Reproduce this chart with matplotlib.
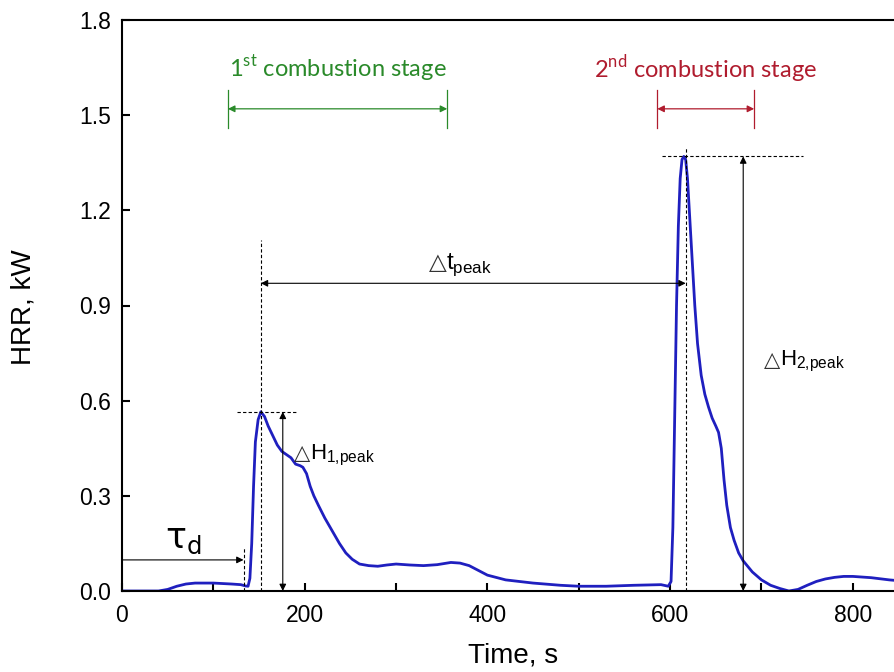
import numpy as np
import matplotlib.pyplot as plt
from matplotlib.ticker import MultipleLocator

# HRR curve (time in s, HRR in kW)
time = [0, 20, 40, 50, 60, 70, 80, 100, 120, 130, 135, 138, 140, 142, 144, 146, 149, 152,
        156, 160, 165, 170, 175, 180, 185, 190, 195, 198, 202, 206, 210, 215, 222, 230, 238,
        245, 252, 260, 270, 280, 290, 300, 315, 330, 345, 360, 370, 380, 390, 400, 420, 450,
        480, 500, 530, 560, 590, 598, 601, 603, 605, 607, 609, 611, 613, 615, 617, 619, 621,
        624, 627, 630, 634, 638, 642, 646, 650, 653, 656, 659, 662, 666, 670, 675, 680, 690,
        700, 710, 720, 730, 740, 750, 760, 770, 780, 790, 800, 820, 840, 860]
hrr = [0.0, 0.0, 0.0, 0.005, 0.015, 0.022, 0.025, 0.025, 0.022, 0.02, 0.016, 0.015, 0.04,
       0.15, 0.33, 0.47, 0.54, 0.565, 0.55, 0.52, 0.49, 0.46, 0.44, 0.43, 0.42, 0.40, 0.395,
       0.39, 0.37, 0.33, 0.30, 0.27, 0.23, 0.19, 0.15, 0.12, 0.10, 0.085, 0.08, 0.078, 0.082,
       0.085, 0.082, 0.08, 0.083, 0.09, 0.088, 0.08, 0.065, 0.05, 0.035, 0.025, 0.018, 0.015,
       0.015, 0.018, 0.02, 0.015, 0.03, 0.2, 0.55, 0.9, 1.15, 1.30, 1.36, 1.37, 1.36, 1.30,
       1.20, 1.05, 0.90, 0.78, 0.68, 0.62, 0.58, 0.545, 0.52, 0.50, 0.45, 0.35, 0.27, 0.20,
       0.16, 0.12, 0.095, 0.06, 0.035, 0.018, 0.008, 0.0, 0.005, 0.018, 0.03, 0.038, 0.043,
       0.046, 0.046, 0.042, 0.035, 0.03]

t_delay = 133
t_peak1, h_peak1 = 152, 0.565
t_peak2, h_peak2 = 617, 1.37
stage1 = (116, 356)
stage2 = (586, 692)

plt.rcParams['font.family'] = ['Liberation Sans', 'DejaVu Sans']
plt.rcParams['mathtext.fontset'] = 'custom'
plt.rcParams['mathtext.rm'] = 'Liberation Sans'

fig = plt.figure(figsize=(8.95, 6.72), dpi=100)
ax = fig.add_axes([122 / 895, 81 / 672, 782 / 895, 571 / 672])

ax.plot(time, hrr, color='#1f1fbf', lw=2)

ax.set_xlim(0, 856)
ax.set_ylim(0, 1.8)
ax.xaxis.set_major_locator(MultipleLocator(200))
ax.xaxis.set_minor_locator(MultipleLocator(100))
ax.yaxis.set_major_locator(MultipleLocator(0.3))
ax.yaxis.set_major_formatter(plt.FuncFormatter(lambda v, p: f'{v:.1f}'))
ax.tick_params(which='both', direction='in', length=6, width=1.5, labelsize=16.5, pad=8)
ax.tick_params(axis='x', pad=9)
for s in ['left', 'top', 'bottom']:
    ax.spines[s].set_linewidth(1.5)
ax.spines['right'].set_visible(False)

ax.set_xlabel('Time, s', fontsize=20)
ax.set_ylabel('HRR, kW', fontsize=20)
ax.xaxis.set_label_coords(0.5, -(643 - 591) / 571)
ax.yaxis.set_label_coords(-(122 - 37) / 782, (591 - 307) / 571)

dash = dict(color='k', lw=0.8, ls=(0, (3, 2)))
ax.plot([t_delay, t_delay], [0, 0.135], **dash)
ax.plot([t_peak1, t_peak1], [0, 1.107], **dash)
ax.plot([126, 190], [h_peak1, h_peak1], **dash)
ax.plot([t_peak2, t_peak2], [0, 1.40], **dash)
ax.plot([591, 745], [h_peak2, h_peak2], **dash)

arr = dict(color='k', lw=0.8, shrinkA=0, shrinkB=0, mutation_scale=10)
ax.annotate('', xy=(t_delay, 0.098), xytext=(0, 0.098), arrowprops=dict(arrowstyle='-|>', **arr))
ax.annotate('', xy=(176, h_peak1), xytext=(176, 0), arrowprops=dict(arrowstyle='<|-|>', **arr))
ax.annotate('', xy=(t_peak2, 0.97), xytext=(t_peak1, 0.97), arrowprops=dict(arrowstyle='<|-|>', **arr))
ax.annotate('', xy=(680, h_peak2), xytext=(680, 0), arrowprops=dict(arrowstyle='<|-|>', **arr))


def delta_label(x, y, rest, size):
    # triangle in DejaVu Sans (Liberation has no such glyph), rest right after it
    ax.text(x, y, '△', fontsize=size * 0.95, family='DejaVu Sans', ha='right', va='baseline',
            color='#333333')
    ax.text(x, y, rest, fontsize=size, ha='left', va='baseline')


ax.text(47, 0.135, r'τ$_{\mathregular{d}}$', fontsize=25, family='DejaVu Sans')
delta_label(206, 0.415, r'H$_{\mathregular{1{,}peak}}$', 16)
delta_label(355, 1.015, r't$_{\mathregular{peak}}$', 17.5)
delta_label(720, 0.71, r'H$_{\mathregular{2{,}peak}}$', 16)

green, red = '#2a8a2a', '#b01c2e'
for (a, b), col, lab in [(stage1, green, r'1$^{\mathregular{st}}$ combustion stage'),
                         (stage2, red, r'2$^{\mathregular{nd}}$ combustion stage')]:
    ax.annotate('', xy=(b, 1.52), xytext=(a, 1.52),
                arrowprops=dict(arrowstyle='<|-|>', color=col, lw=0.9, shrinkA=0, shrinkB=0,
                                mutation_scale=10))
    ax.plot([a, a], [1.46, 1.58], color=col, lw=0.9)
    ax.plot([b, b], [1.46, 1.58], color=col, lw=0.9)
    ax.text((a + b) / 2, 1.645, lab, color=col, fontsize=17, ha='center', va='center',
            family=['Lato', 'DejaVu Sans'])

fig.savefig('out.png', dpi=100)
